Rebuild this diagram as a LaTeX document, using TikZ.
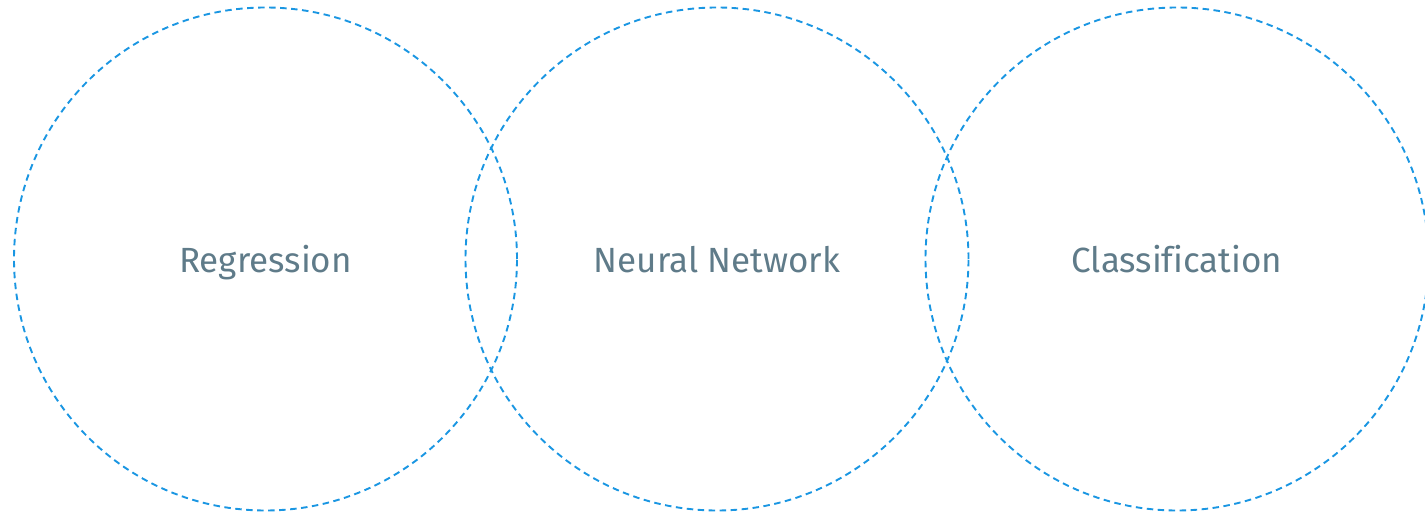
\documentclass[tikz,border=0pt]{standalone}
\usepackage{fontspec}
\setmainfont[Ligatures=NoCommon]{Fira Sans}
\definecolor{ringblue}{HTML}{1A96E2}
\definecolor{labelslate}{HTML}{5F7B89}
\begin{document}
\begin{tikzpicture}[x=1pt,y=-1pt,
  ring/.style={circle, draw=ringblue, line width=1.9pt,
    dash pattern=on 6.5pt off 4.5pt, minimum size=503pt, inner sep=0pt,
    text height=32pt, text depth=4pt,
    font=\fontsize{35}{40}\selectfont, text=labelslate}]
  \useasboundingbox (0,0) rectangle (1425,518);
  \clip (0,0) rectangle (1425,518);
  \node[ring] (reg) at (265.5,259) {Regression};
  \node[ring] (nn)  at (717,259) {Neural Network};
  \node[ring] (cls) at (1177,259) {Classification};
\end{tikzpicture}
\end{document}
